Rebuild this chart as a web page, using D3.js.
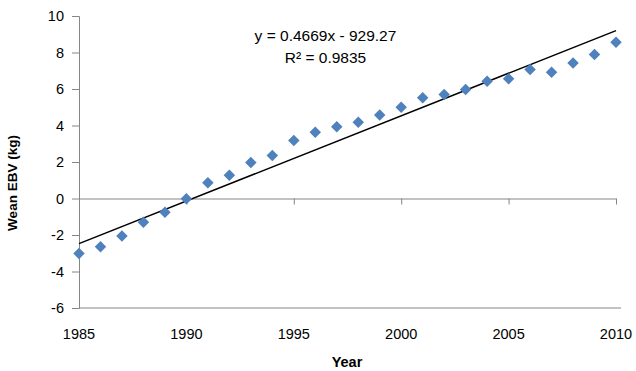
<!DOCTYPE html>
<html>
<head>
<meta charset="utf-8">
<script src="https://cdn.jsdelivr.net/npm/d3@7"></script>
<style>
  body { margin: 0; background: #fff; }
  text { font-family: "Liberation Sans", Arial, sans-serif; }
</style>
</head>
<body>
<div id="chart"></div>
<script>
// wean EBV by year
const years = d3.range(1985, 2011);
const weanEbv = [-3.01, -2.65, -2.06, -1.30, -0.75, -0.02, 0.86, 1.28, 1.97, 2.36,
  3.18, 3.63, 3.93, 4.18, 4.57, 5.00, 5.52, 5.70, 5.97, 6.43,
  6.56, 7.07, 6.92, 7.43, 7.89, 8.56];
const xTicks = [1985, 1990, 1995, 2000, 2005, 2010];
const yTicks = [-6, -4, -2, 0, 2, 4, 6, 8, 10];
const slope = 0.4669, intercept = -929.27;
const eqLabels = ["y = 0.4669x - 929.27", "R² = 0.9835"];

const width = 636, height = 371;
const margin = { top: 16, right: 20, bottom: 63, left: 79 };

const data = years.map((y, i) => ({ year: y, value: weanEbv[i] }));

const x = d3.scaleLinear().domain([1985, 2010]).range([margin.left, 616]);
const y = d3.scaleLinear().domain([-6, 10]).range([height - margin.bottom, margin.top]);

const svg = d3.select("#chart")
  .append("svg")
  .attr("width", width)
  .attr("height", height);

const axisColor = "#868686";

// y axis (plain hyphen for negatives, like the original)
const yAxis = svg.append("g")
  .attr("transform", `translate(${margin.left},0)`)
  .call(d3.axisLeft(y).tickValues(yTicks).tickSize(7).tickPadding(8).tickFormat(d => String(d)));
yAxis.select(".domain").attr("stroke", axisColor);
yAxis.selectAll(".tick line").attr("stroke", axisColor);
yAxis.selectAll(".tick text").attr("fill", "#000").style("font-size", "14.5px");

// bottom border line of the plot
svg.append("line")
  .attr("x1", margin.left).attr("x2", 621)
  .attr("y1", y(-6)).attr("y2", y(-6))
  .attr("stroke", axisColor);

// x axis crossing at zero, labels stay at the bottom
const xAxis = svg.append("g")
  .attr("transform", `translate(0,${y(0)})`)
  .call(d3.axisBottom(x).tickValues(xTicks).tickSize(6).tickSizeOuter(0).tickFormat(""));
xAxis.select(".domain").attr("stroke", axisColor);
xAxis.selectAll(".tick line").attr("stroke", axisColor);

svg.append("g")
  .selectAll("text")
  .data(xTicks)
  .join("text")
  .attr("x", d => x(d))
  .attr("y", 339)
  .attr("text-anchor", "middle")
  .style("font-size", "14.5px")
  .text(d => d);

// trendline
const trend = d3.line()
  .x(d => x(d))
  .y(d => y(slope * d + intercept));
svg.append("path")
  .datum([1985, 2010])
  .attr("fill", "none")
  .attr("stroke", "#000")
  .attr("stroke-width", 1.5)
  .attr("d", trend);

// points
svg.append("g")
  .selectAll("path")
  .data(data)
  .join("path")
  .attr("transform", d => `translate(${x(d.year)},${y(d.value)}) rotate(45)`)
  .attr("d", d3.symbol(d3.symbolSquare, 66))
  .attr("fill", "#4F81BD");

// equation
svg.append("g")
  .selectAll("text")
  .data(eqLabels)
  .join("text")
  .attr("x", 325.5)
  .attr("y", (d, i) => 41 + i * 22)
  .attr("text-anchor", "middle")
  .style("font-size", "15.5px")
  .text(d => d);

// axis titles
svg.append("text")
  .attr("x", 347)
  .attr("y", 367)
  .attr("text-anchor", "middle")
  .style("font-size", "14.5px")
  .style("font-weight", "bold")
  .text("Year");

svg.append("text")
  .attr("transform", "translate(17,183) rotate(-90)")
  .attr("text-anchor", "middle")
  .style("font-size", "13.5px")
  .style("font-weight", "bold")
  .text("Wean EBV (kg)");
</script>
</body>
</html>
